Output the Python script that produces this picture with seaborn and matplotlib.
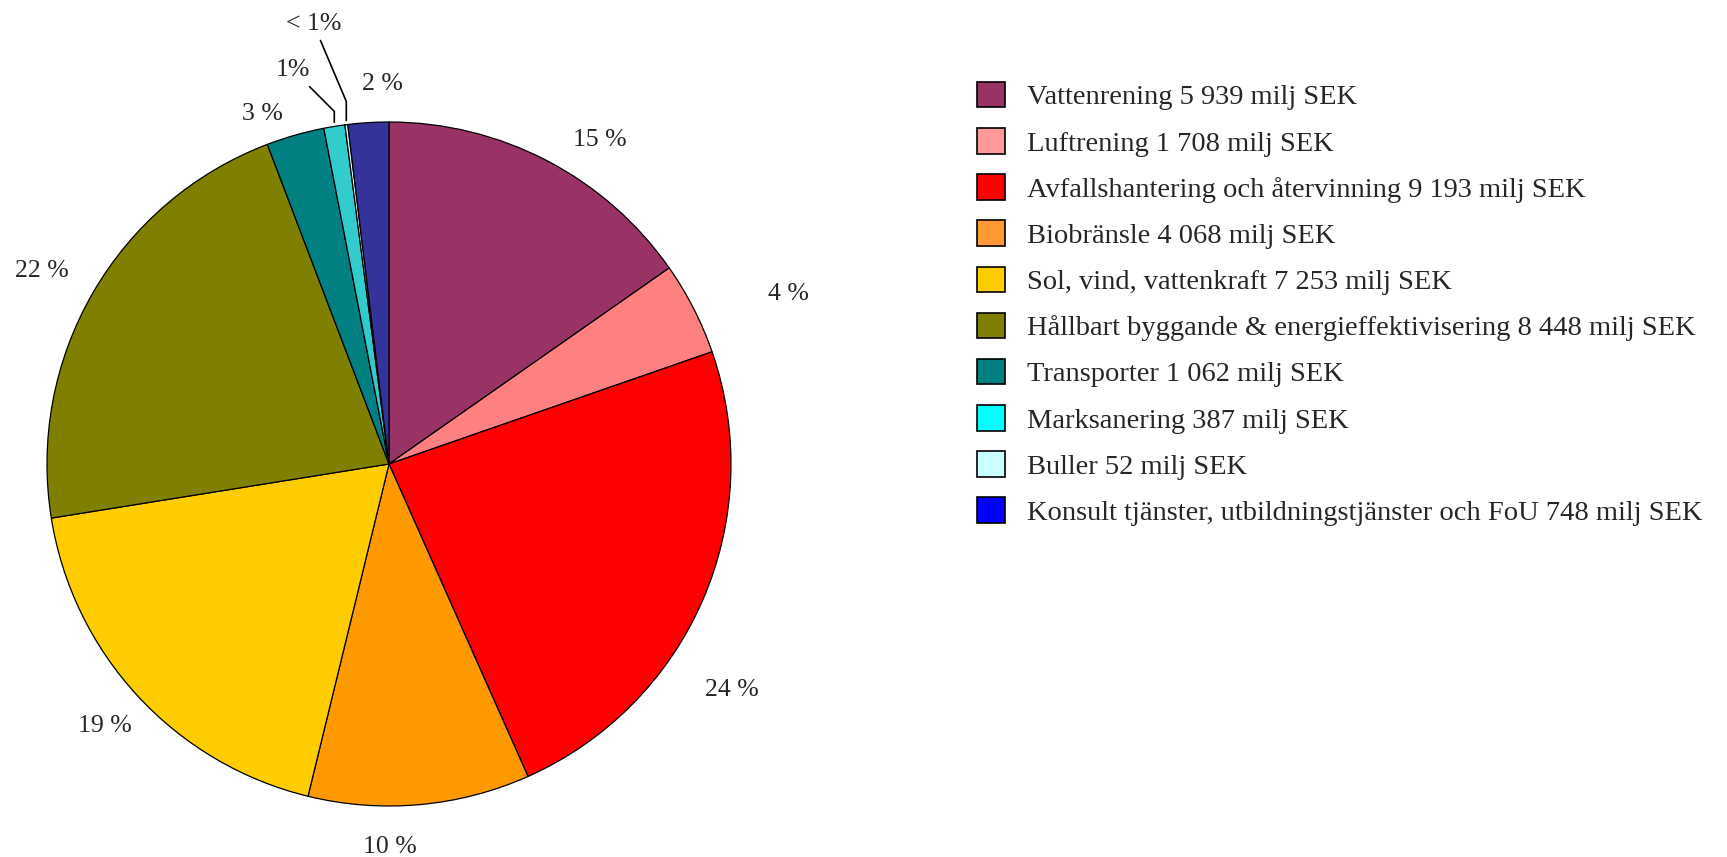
import numpy as np
import seaborn as sns
import matplotlib.pyplot as plt
from matplotlib.patches import Patch

# Data (milj SEK)
categories = ["Vattenrening", "Luftrening", "Avfallshantering och återvinning", "Biobränsle",
              "Sol, vind, vattenkraft", "Hållbart byggande & energieffektivisering",
              "Transporter", "Marksanering", "Buller",
              "Konsult tjänster, utbildningstjänster och FoU"]
values = [5939, 1708, 9193, 4068, 7253, 8448, 1062, 387, 52, 748]
value_labels = ["5 939", "1 708", "9 193", "4 068", "7 253", "8 448", "1 062", "387", "52", "748"]
pct_labels = ["15 %", "4 %", "24 %", "10 %", "19 %", "22 %", "3 %", "1%", "< 1%", "2 %"]

pie_colors = ["#993366", "#FF8080", "#FF0000", "#FF9900", "#FFCC00", "#808000",
              "#008080", "#33CCCC", "#CCFFFF", "#333399"]
legend_colors = ["#993366", "#FF9999", "#FF0000", "#FF9933", "#FFCC00", "#808000",
                 "#008080", "#00FFFF", "#CCFFFF", "#0000FF"]

sns.set_style("white")
plt.rcParams['font.family'] = ['Liberation Serif', 'DejaVu Serif']

fig = plt.figure(figsize=(17.27, 8.57), dpi=100)
ax = fig.add_axes([47 / 1727, 51 / 857, 684 / 1727, 684 / 857])

wedges, _ = ax.pie(values, colors=pie_colors, startangle=90, counterclock=False,
                   radius=1, wedgeprops=dict(edgecolor="black", linewidth=0.9))
ax.set_xlim(-1, 1)
ax.set_ylim(-1, 1)
ax.set_aspect("equal")
ax.axis("off")

# label placement: distance factor and angle nudge (deg, clockwise) per slice
label_dist = [1.13, 1.27, 1.20, 1.12, 1.13, 1.16, 1.09, None, None, 1.11]
label_nudge = [5.5, 4.0, 10.0, 5.0, 0.0, -1.0, -4.0, 0, 0, 2.4]

for i, w in enumerate(wedges):
    mid = np.deg2rad((w.theta1 + w.theta2) / 2)
    if label_dist[i] is not None:
        ang = mid - np.deg2rad(label_nudge[i])
        r = label_dist[i]
        ax.text(r * np.cos(ang), r * np.sin(ang), pct_labels[i], ha="center", va="center",
                fontsize=18.5, clip_on=False)

# leader lines for the tiniest slices
for i, off, angA in [(7, (-41, 56), -45), (8, (-33, 101), -67)]:
    w = wedges[i]
    mid = np.deg2rad((w.theta1 + w.theta2) / 2)
    ax.annotate(pct_labels[i], xy=(np.cos(mid), np.sin(mid)), xytext=off,
                textcoords="offset pixels", ha="center", va="center", fontsize=18.5,
                annotation_clip=False,
                arrowprops=dict(arrowstyle="-", color="black", lw=1.2, shrinkA=2, shrinkB=3,
                                connectionstyle=f"angle,angleA={angA},angleB=90,rad=0"))

handles = [Patch(facecolor=c, edgecolor="black", linewidth=1.2) for c in legend_colors]
labels = [f"{c} {v} milj SEK" for c, v in zip(categories, value_labels)]
fig.legend(handles, labels, loc="upper left", bbox_to_anchor=(977 / 1727, 1 - 82 / 857),
           frameon=False, fontsize=20.5, borderpad=0, borderaxespad=0,
           handlelength=1.0, handleheight=1.0, handletextpad=0.75, labelspacing=0.62)

fig.savefig("out.png", dpi=100)
